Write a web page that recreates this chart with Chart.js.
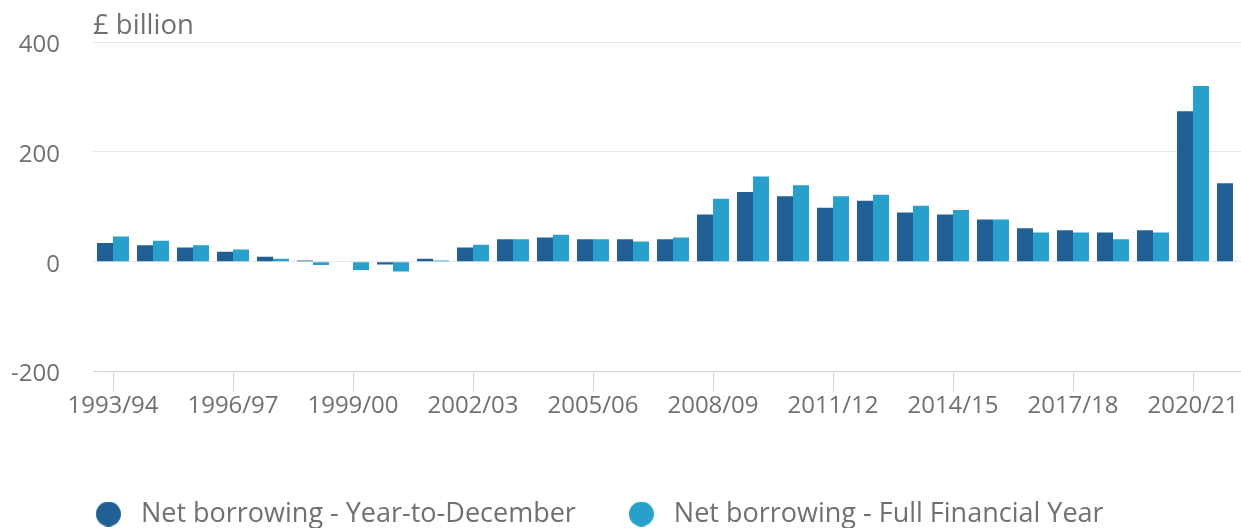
<!DOCTYPE html>
<html>
<head>
<meta charset="utf-8">
<script src="https://cdn.jsdelivr.net/npm/chart.js@4.4.1/dist/chart.umd.min.js"></script>
<style>
html, body { margin: 0; padding: 0; background: #fff; overflow: hidden; width: 1241px; height: 528px; }
#wrap { position: absolute; left: -51px; top: 0; width: 1304px; height: 528px; }
</style>
</head>
<body>
<div id="wrap"><canvas id="grafico" width="1304" height="528"></canvas></div>
<script>
// financial years
var labels = ['1993/94', '1994/95', '1995/96', '1996/97', '1997/98', '1998/99', '1999/00', '2000/01',
    '2001/02', '2002/03', '2003/04', '2004/05', '2005/06', '2006/07', '2007/08', '2008/09', '2009/10',
    '2010/11', '2011/12', '2012/13', '2013/14', '2014/15', '2015/16', '2016/17', '2017/18', '2018/19',
    '2019/20', '2020/21', '2021/22'];
// £ billion
var yearToDecember = [34, 30, 26, 18, 9, 2, -1, -5, 5.5, 26, 41, 44, 41, 41, 41, 86, 127, 119, 98, 111,
    89.5, 86, 77, 61, 57, 53, 57, 274, 143];
var fullFinancialYear = [46, 38, 30, 22, 5.5, -6, -15, -18, 2, 31, 41, 49, 41, 36.5, 44, 114.5, 155, 139,
    119, 122, 102, 94, 77, 53, 53, 41, 53, 320, null];
var yTicks = [-200, 0, 200, 400];

var grey = '#707071';
var darkBlue = '#206095';
var lightBlue = '#27a0cc';

function makeDot(color) {
    var c = document.createElement('canvas');
    c.width = 25;
    c.height = 25;
    var ctx = c.getContext('2d');
    ctx.fillStyle = color;
    ctx.beginPath();
    ctx.arc(12.5, 12.5, 12.5, 0, Math.PI * 2);
    ctx.fill();
    return c;
}

Chart.defaults.font.family = "'Open Sans', sans-serif";
Chart.defaults.color = grey;

var canvas = document.getElementById('grafico');
var chart = new Chart(canvas, {
    type: 'bar',
    data: {
        labels: labels,
        datasets: [
            {
                label: 'Net borrowing - Year-to-December',
                data: yearToDecember,
                backgroundColor: darkBlue,
                pointStyle: makeDot(darkBlue),
                barPercentage: 1,
                categoryPercentage: 0.8,
                borderWidth: 0
            },
            {
                label: 'Net borrowing - Full Financial Year',
                data: fullFinancialYear,
                backgroundColor: lightBlue,
                pointStyle: makeDot(lightBlue),
                barPercentage: 1,
                categoryPercentage: 0.8,
                borderWidth: 0
            }]
    },
    options: {
        responsive: false,
        animation: false,
        layout: { padding: { left: -9, right: 0, top: 0, bottom: -9.5 } },
        plugins: {
            tooltip: { enabled: false },
            title: {
                display: true,
                text: '£ billion',
                align: 'start',
                fullSize: false,
                color: grey,
                font: { size: 27.5, weight: 'normal' },
                padding: { top: 10, bottom: -1 }
            },
            legend: {
                position: 'bottom',
                labels: {
                    usePointStyle: true,
                    pointStyleWidth: 38,
                    padding: 46.5,
                    color: grey,
                    font: { size: 27 }
                }
            }
        },
        scales: {
            x: {
                grid: {
                    offset: false,
                    drawOnChartArea: false,
                    tickLength: 20,
                    tickColor: function(ctx) { return ctx.index % 3 === 0 ? '#ccd6eb' : 'rgba(0,0,0,0)'; }
                },
                border: { color: '#ccd6eb', width: 1 },
                ticks: {
                    autoSkip: false,
                    maxRotation: 0,
                    padding: 0,
                    color: grey,
                    font: { size: 24 },
                    callback: function(val, i) { return i % 3 === 0 ? this.getLabelForValue(val) : ''; }
                },
                afterFit: function(scale) { scale.height = 82.5; }
            },
            y: {
                min: -200,
                max: 400,
                afterBuildTicks: function(scale) {
                    scale.ticks = yTicks.map(function(v) { return { value: v }; });
                },
                grid: {
                    drawTicks: true,
                    tickLength: 33,
                    tickColor: 'rgba(0,0,0,0)',
                    color: function(ctx) { return ctx.tick && ctx.tick.value === -200 ? 'rgba(0,0,0,0)' : '#e6e6e6'; }
                },
                border: { display: false },
                ticks: {
                    padding: 0,
                    labelOffset: 3,
                    color: grey,
                    font: { size: 24 }
                },
                afterFit: function(scale) { scale.width = 153; }
            }
        }
    }
});
</script>
</body>
</html>
